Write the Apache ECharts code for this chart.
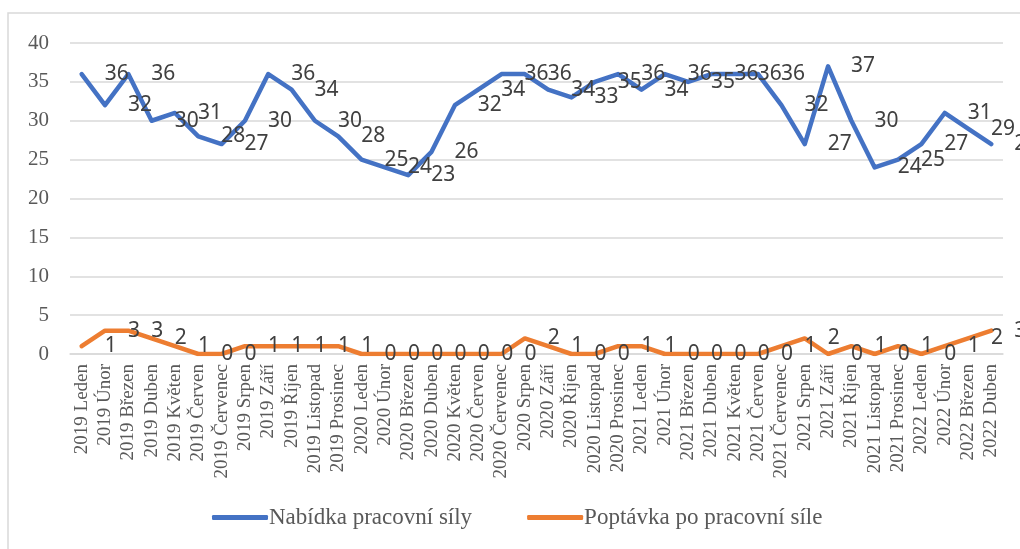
<!DOCTYPE html>
<html>
<head>
<meta charset="utf-8">
<script src="https://cdn.jsdelivr.net/npm/echarts@6/dist/echarts.min.js"></script>
<style>
  html, body { margin: 0; padding: 0; background: #fff; }
  #chart { width: 1020px; height: 549px; }
</style>
</head>
<body>
<div id="chart"></div>
<script>
// měsíce 2019 Leden – 2022 Duben
const months = [
  '2019 Leden', '2019 Únor', '2019 Březen', '2019 Duben', '2019 Květen', '2019 Červen',
  '2019 Červenec', '2019 Srpen', '2019 Září', '2019 Říjen', '2019 Listopad', '2019 Prosinec',
  '2020 Leden', '2020 Únor', '2020 Březen', '2020 Duben', '2020 Květen', '2020 Červen',
  '2020 Červenec', '2020 Srpen', '2020 Září', '2020 Říjen', '2020 Listopad', '2020 Prosinec',
  '2021 Leden', '2021 Únor', '2021 Březen', '2021 Duben', '2021 Květen', '2021 Červen',
  '2021 Červenec', '2021 Srpen', '2021 Září', '2021 Říjen', '2021 Listopad', '2021 Prosinec',
  '2022 Leden', '2022 Únor', '2022 Březen', '2022 Duben'
];
const nabidka = [36, 32, 36, 30, 31, 28, 27, 30, 36, 34, 30, 28, 25, 24, 23, 26, 32, 34, 36, 36,
                 34, 33, 35, 36, 34, 36, 35, 36, 36, 36, 32, 27, 37, 30, 24, 25, 27, 31, 29, 27];
const poptavka = [1, 3, 3, 2, 1, 0, 0, 1, 1, 1, 1, 1, 0, 0, 0, 0, 0, 0, 0, 2,
                  1, 0, 0, 1, 1, 0, 0, 0, 0, 0, 1, 2, 0, 1, 0, 1, 0, 1, 2, 3];
const seriesNames = ['Nabídka pracovní síly', 'Poptávka po pracovní síle'];
const yTicks = { min: 0, max: 40, interval: 5 };

const chart = echarts.init(document.getElementById('chart'));

const dataLabel = {
  show: true,
  position: 'right',
  distance: 22,
  offset: [0, 6],
  color: '#404040',
  fontFamily: 'Noto Sans',
  fontSize: 21
};

function lineSeries(name, data, color) {
  return {
    name, type: 'line', data,
    showSymbol: true, showAllSymbol: true, symbol: 'circle', symbolSize: 2,
    lineStyle: { color, width: 4.5, cap: 'round', join: 'round' },
    itemStyle: { color },
    label: dataLabel,
    labelLayout: { hideOverlap: false },
    z: 2,
    silent: true
  };
}

chart.setOption({
  animation: false,
  textStyle: { fontFamily: 'Liberation Serif' },
  graphic: [{
    type: 'rect',
    shape: { x: 8, y: 13, width: 1030, height: 560 },
    style: { fill: 'none', stroke: '#d9d9d9', lineWidth: 1.5 },
    silent: true
  }],
  grid: { left: 70, right: 17, top: 43, bottom: 195 },
  legend: {
    bottom: 15,
    left: 207,
    itemWidth: 56,
    itemHeight: 5,
    itemGap: 55,
    icon: 'roundRect',
    textStyle: { fontFamily: 'Liberation Serif', fontSize: 23, color: '#595959', padding: [0, 0, 0, -4] },
    data: seriesNames
  },
  xAxis: {
    type: 'category',
    data: months,
    boundaryGap: true,
    axisLine: { lineStyle: { color: '#d9d9d9', width: 1.5 } },
    axisTick: { show: false },
    axisLabel: {
      interval: 0,
      rotate: 90,
      margin: 10,
      fontFamily: 'Liberation Serif',
      fontSize: 19,
      color: '#595959'
    }
  },
  yAxis: {
    type: 'value',
    min: yTicks.min,
    max: yTicks.max,
    interval: yTicks.interval,
    axisLine: { show: false },
    axisTick: { show: false },
    splitLine: { lineStyle: { color: '#d9d9d9', width: 1.5 } },
    axisLabel: {
      margin: 21,
      fontFamily: 'Liberation Serif',
      fontSize: 21,
      color: '#595959'
    }
  },
  series: [
    lineSeries(seriesNames[0], nabidka, '#4472C4'),
    lineSeries(seriesNames[1], poptavka, '#ED7D31')
  ]
});
</script>
</body>
</html>
